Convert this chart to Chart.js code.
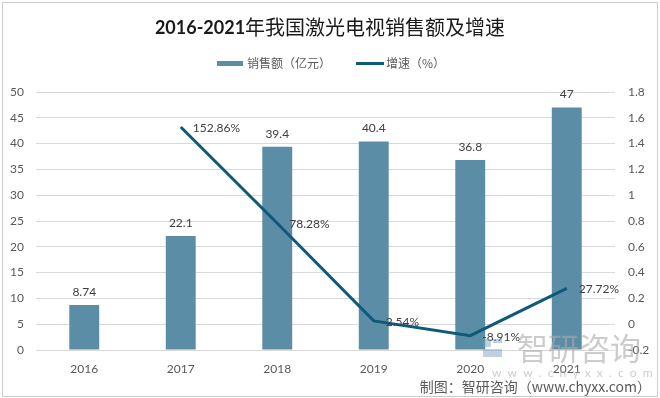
<!DOCTYPE html>
<html>
<head>
<meta charset="utf-8">
<script src="https://cdn.jsdelivr.net/npm/chart.js@4"></script>
<style>
  html, body { margin: 0; padding: 0; background: #ffffff; }
  #wrap { width: 660px; height: 398px; }
</style>
</head>
<body>
<div id="wrap"><canvas id="c" width="660" height="398"></canvas></div>
<script>
// ---- data ----
const years = ['2016', '2017', '2018', '2019', '2020', '2021'];
const salesValues = [8.74, 22.1, 39.4, 40.4, 36.8, 47];          // 销售额（亿元）
const growthPercent = [null, 152.86, 78.28, 2.54, -8.91, 27.72];  // 增速（%）
const seriesNames = ['销售额（亿元）', '增速（%）'];
const titleYears = '2016-2021';
const titleText = '年我国激光电视销售额及增速';
const sourceText = '制图：智研咨询（www.chyxx.com）';

// ---- styles ----
const BAR_COLOR = '#5b8ea6';
const LINE_COLOR = '#0f5a78';
const TEXT_COLOR = '#595959';
const LABEL_COLOR = '#404040';
const GRID_COLOR = '#d9d9d9';
const LATIN = 'Lato, "Liberation Sans", sans-serif';
const CJK = '"Noto Sans CJK SC", "Noto Sans", sans-serif';

const growthFraction = growthPercent.map(v => v === null ? null : v / 100);

const decorPlugin = {
  id: 'decor',
  afterDatasetsDraw(chart) {
    const ctx = chart.ctx;
    ctx.save();
    // bar value labels
    const barMeta = chart.getDatasetMeta(1);
    ctx.font = '12px ' + LATIN;
    ctx.fillStyle = LABEL_COLOR;
    ctx.textAlign = 'center';
    ctx.textBaseline = 'middle';
    barMeta.data.forEach((el, i) => {
      ctx.fillText(String(salesValues[i]), el.x, el.y - 13);
    });
    // line value labels
    const lineMeta = chart.getDatasetMeta(0);
    ctx.textAlign = 'left';
    lineMeta.data.forEach((el, i) => {
      if (growthPercent[i] === null) return;
      ctx.fillText(growthPercent[i].toFixed(2) + '%', el.x + 12, el.y + 1);
    });
    ctx.restore();
  },
  afterDraw(chart) {
    const ctx = chart.ctx;
    ctx.save();
    // outer frame
    ctx.strokeStyle = '#cccccc';
    ctx.lineWidth = 1;
    ctx.strokeRect(2.5, 2.5, 655, 394);

    // title (mixed weight)
    ctx.textBaseline = 'middle';
    ctx.fillStyle = '#1a1a1a';
    ctx.font = 'bold 18px ' + LATIN;
    const w1 = ctx.measureText(titleYears).width;
    ctx.font = '20px ' + CJK;
    const w2 = ctx.measureText(titleText).width;
    const tx = 330 - (w1 + w2) / 2;
    ctx.textAlign = 'left';
    ctx.font = 'bold 18px ' + LATIN;
    ctx.fillText(titleYears, tx, 28);
    ctx.font = '20px ' + CJK;
    ctx.fillText(titleText, tx + w1, 27);

    // legend
    ctx.fillStyle = BAR_COLOR;
    ctx.fillRect(217, 61, 26, 5);
    ctx.font = '12px ' + CJK;
    ctx.fillStyle = TEXT_COLOR;
    ctx.fillText(chart.data.datasets[1].label, 247, 63);
    ctx.strokeStyle = LINE_COLOR;
    ctx.lineWidth = 3;
    ctx.beginPath();
    ctx.moveTo(356, 63.5);
    ctx.lineTo(384, 63.5);
    ctx.stroke();
    ctx.fillStyle = TEXT_COLOR;
    ctx.fillText(chart.data.datasets[0].label, 386, 63);

    // watermark
    ctx.fillStyle = 'rgba(110,150,190,0.45)';
    ctx.fillRect(483, 339, 8, 8);
    ctx.fillRect(493, 339, 9, 4);
    ctx.fillRect(483, 349, 19, 8);
    ctx.fillStyle = 'rgba(170,170,170,0.6)';
    ctx.font = '31px ' + CJK;
    ctx.textAlign = 'left';
    ctx.fillText('智研咨询', 517, 348);
    ctx.font = '12px ' + LATIN;
    ctx.fillText('w  w  w  .  c  h  y  x  x  .  c  o  m', 492, 373);

    // source
    ctx.fillStyle = TEXT_COLOR;
    ctx.font = '14px ' + CJK;
    ctx.textAlign = 'right';
    ctx.fillText(sourceText, 651, 387);
    ctx.restore();
  }
};

new Chart(document.getElementById('c'), {
  data: {
    labels: years,
    datasets: [
      {
        type: 'line',
        label: seriesNames[1],
        data: growthFraction,
        yAxisID: 'y1',
        borderColor: LINE_COLOR,
        backgroundColor: LINE_COLOR,
        borderWidth: 3,
        pointRadius: 0,
        tension: 0,
        order: 0
      },
      {
        type: 'bar',
        label: seriesNames[0],
        data: salesValues,
        yAxisID: 'y',
        backgroundColor: BAR_COLOR,
        categoryPercentage: 1,
        barPercentage: 0.31,
        order: 1
      }
    ]
  },
  options: {
    responsive: false,
    devicePixelRatio: 1,
    animation: false,
    layout: { padding: { left: 0, right: 0, top: 92, bottom: 18 } },
    plugins: {
      legend: { display: false },
      title: { display: false },
      tooltip: { enabled: false }
    },
    scales: {
      x: {
        offset: true,
        grid: { display: false, drawTicks: false },
        border: { display: false },
        ticks: { color: TEXT_COLOR, font: { family: LATIN, size: 12 }, padding: 12 },
        afterFit(s) { s.height = 30; }
      },
      y: {
        position: 'left',
        min: 0, max: 50,
        ticks: { stepSize: 5, color: TEXT_COLOR, font: { family: LATIN, size: 12 }, padding: 12 },
        grid: { color: GRID_COLOR, drawTicks: false, lineWidth: 1 },
        border: { display: false },
        afterFit(s) { s.width = 36; }
      },
      y1: {
        position: 'right',
        min: -0.2, max: 1.8,
        ticks: {
          stepSize: 0.2, color: TEXT_COLOR, font: { family: LATIN, size: 12 }, padding: 13,
          callback: v => String(+v.toFixed(1))
        },
        grid: { display: false, drawTicks: false },
        border: { display: false },
        afterFit(s) { s.width = 45; }
      }
    }
  },
  plugins: [decorPlugin]
});
</script>
</body>
</html>
